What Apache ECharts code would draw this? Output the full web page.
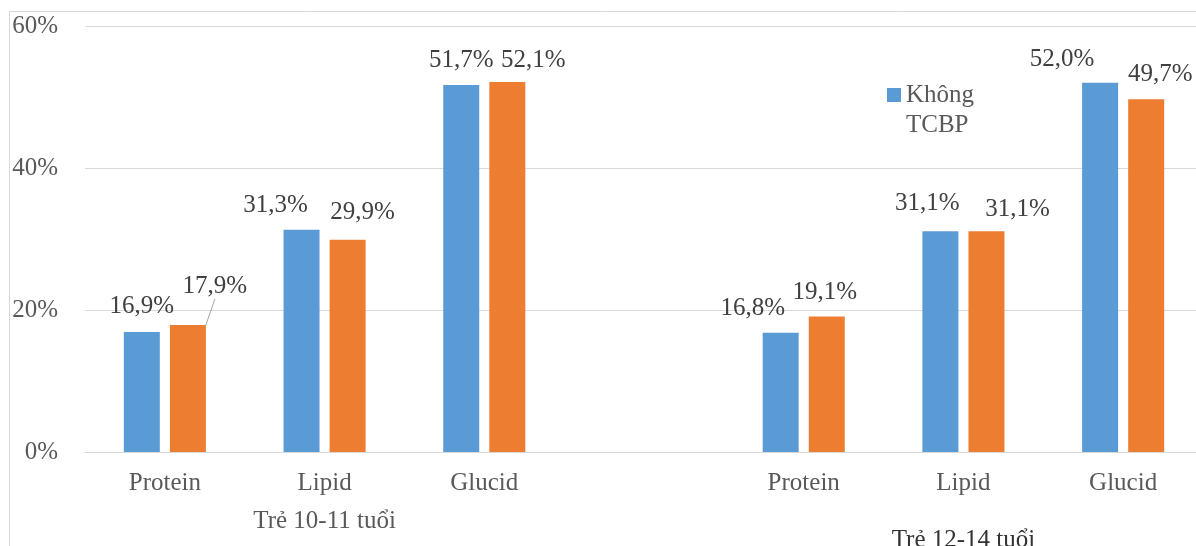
<!DOCTYPE html>
<html>
<head>
<meta charset="utf-8">
<script src="https://cdn.jsdelivr.net/npm/echarts@6/dist/echarts.min.js"></script>
<style>
  html, body { margin: 0; padding: 0; background: #ffffff; }
  #chart { width: 1196px; height: 546px; }
</style>
</head>
<body>
<div id="chart"></div>
<script>
// Energy share from protein, lipid and glucid by age group (%)
const categories = ['Protein', 'Lipid', 'Glucid', '', 'Protein', 'Lipid', 'Glucid'];
const groupLabels = ['', 'Trẻ 10-11 tuổi', '', '', '', 'Trẻ 12-14 tuổi', ''];
const seriesNames = ['Không TCBP', 'TCBP'];
const khongTCBP = [16.9, 31.3, 51.7, null, 16.8, 31.1, 52.0];
const coTCBP = [17.9, 29.9, 52.1, null, 19.1, 31.1, 49.7];
const yTicks = [0, 20, 40, 60];

// Label nudges (dx, dy) so neighbouring value labels do not collide
const labelNudge = [
  [[0, -1], [-26, 0], [0, 0], [0, 0], [-28, 0], [-13, -3], [-38, 1]],
  [[27, -14], [15, -3], [26, 3], [0, 0], [-2, 1], [31, 3], [14, 0]]
];
// Value labels that get a leader line back to their bar
const leaderLines = [[], [0]];

const FONT = 'Liberation Serif';
const fmtPct = v => v.toFixed(1).replace('.', ',') + '%';

function buildData(values, sIdx) {
  return values.map((v, i) => {
    if (v === null) return '-';
    const item = { value: v };
    if (leaderLines[sIdx].indexOf(i) >= 0) {
      item.labelLine = { show: true, lineStyle: { color: '#A6A6A6', width: 1 } };
    }
    return item;
  });
}

const chart = echarts.init(document.getElementById('chart'), null, { renderer: 'canvas' });

const barSeries = [khongTCBP, coTCBP].map((vals, s) => ({
  name: seriesNames[s],
  type: 'bar',
  xAxisIndex: 0,
  barWidth: 36,
  barGap: '28%',
  itemStyle: { color: s === 0 ? '#5B9BD5' : '#ED7D31' },
  label: {
    show: true,
    position: 'top',
    distance: 12,
    fontFamily: FONT,
    fontSize: 25,
    color: '#404040',
    formatter: p => fmtPct(p.value)
  },
  labelLayout: p => {
    const n = labelNudge[p.seriesIndex][p.dataIndex];
    return { dx: n[0], dy: n[1] };
  },
  emphasis: { disabled: true },
  data: buildData(vals, s)
}));

chart.setOption({
  animation: false,
  backgroundColor: '#ffffff',
  graphic: [{
    type: 'rect',
    silent: true,
    shape: { x: 9.5, y: 11.5, width: 1300, height: 700 },
    style: { fill: 'none', stroke: '#D9D9D9', lineWidth: 1 }
  }],
  grid: { left: 85, top: 26, width: 1118, height: 426, outerBoundsMode: 'none', containLabel: false },
  legend: {
    data: [seriesNames[0]],
    left: 887,
    top: 50,
    padding: 0,
    itemWidth: 14,
    itemHeight: 14,
    icon: 'rect',
    selectedMode: false,
    // blank first line keeps the swatch level with the first word
    formatter: n => ' \n' + n.replace(' ', '\n'),
    textStyle: {
      fontFamily: FONT,
      fontSize: 25,
      color: '#595959',
      lineHeight: 30
    }
  },
  xAxis: [{
    type: 'category',
    data: categories,
    axisLine: { show: true, lineStyle: { color: '#D9D9D9', width: 1 } },
    axisTick: { show: false },
    axisLabel: { margin: 19, fontFamily: FONT, fontSize: 25, color: '#595959', interval: 0 }
  }, {
    type: 'category',
    position: 'bottom',
    data: groupLabels,
    axisLine: { show: false },
    axisTick: { show: false },
    axisLabel: {
      margin: 57,
      interval: 0,
      formatter: (v, i) => v ? (i > 3 ? '{b|' + v + '}' : '{a|' + v + '}') : '',
      rich: {
        a: { fontFamily: FONT, fontSize: 25, color: '#595959' },
        b: { fontFamily: FONT, fontSize: 25, color: '#333333', padding: [19, 0, 0, 0] }
      }
    }
  }],
  yAxis: {
    type: 'value',
    min: yTicks[0],
    max: yTicks[yTicks.length - 1],
    interval: 20,
    axisLine: { show: false },
    axisTick: { show: false },
    splitLine: { lineStyle: { color: '#D9D9D9', width: 1 } },
    axisLabel: { margin: 27, fontFamily: FONT, fontSize: 25, color: '#595959', formatter: '{value}%' }
  },
  series: barSeries
});
</script>
</body>
</html>
